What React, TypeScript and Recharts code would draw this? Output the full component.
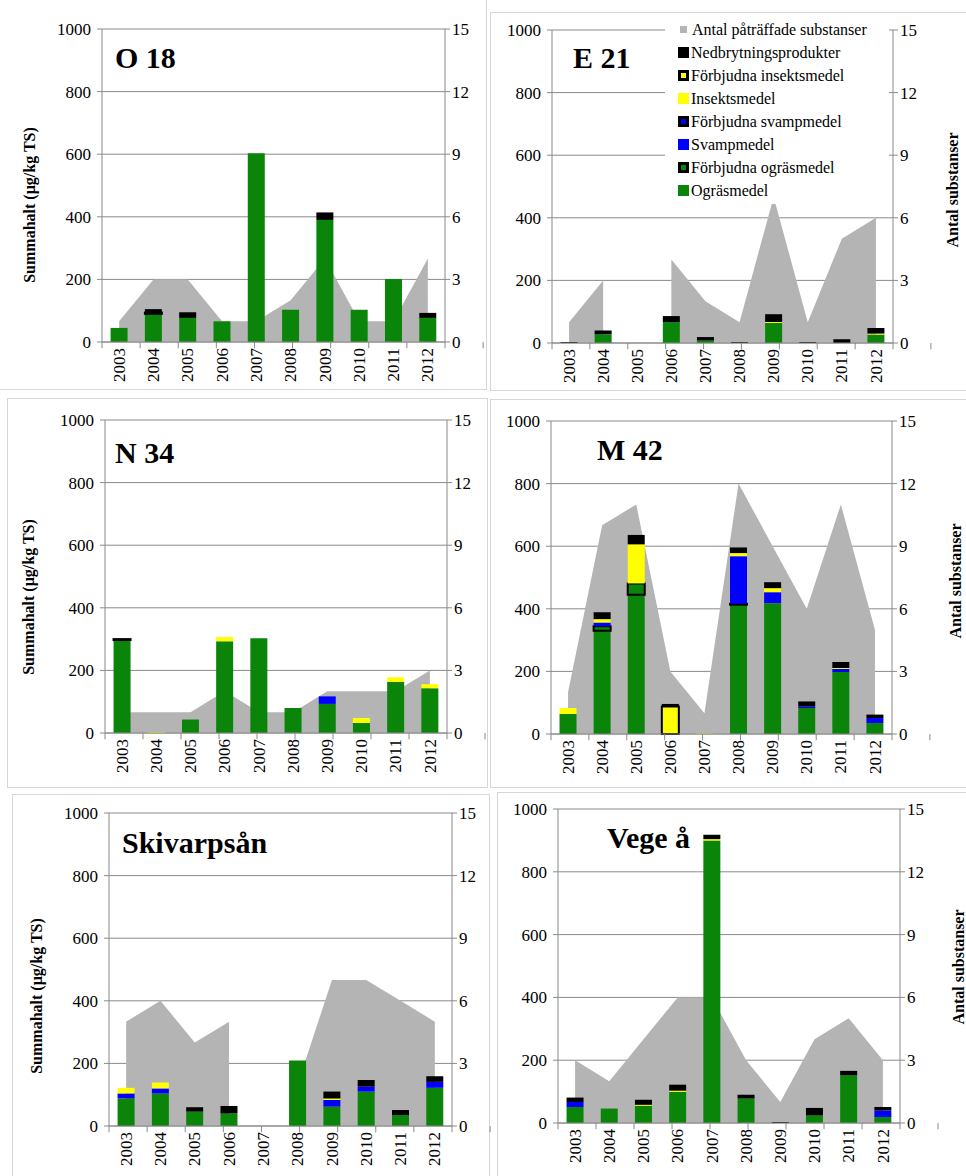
import React from 'react';
import { ComposedChart, Bar, Area, XAxis, YAxis, CartesianGrid, ReferenceLine } from 'recharts';

const YEARS = ['2003', '2004', '2005', '2006', '2007', '2008', '2009', '2010', '2011', '2012'];
const LEFT_TICKS = [0, 200, 400, 600, 800, 1000];
const RIGHT_TICKS = [0, 3, 6, 9, 12, 15];

// O 18
const O18_OGRAS = [45, 90, 77, 66, 603, 103, 390, 103, 201, 77];
const O18_FORB_INSEKT = [0, 4, 0, 0, 0, 0, 0, 0, 0, 0];
const O18_NEDBR = [0, 11, 18, 0, 0, 0, 24, 0, 0, 16];
const O18_ANTAL = [1, 3, 3, 1, 1, 2, 4, 1, 1, 4];

// E 21
const E21_OGRAS = [0, 28, 0, 67, 8, 0, 64, 0, 0, 27];
const E21_INSEKT = [0, 0, 0, 0, 0, 0, 3, 0, 0, 3];
const E21_NEDBR = [3, 12, 0, 19, 11, 3, 25, 3, 12, 18];
const E21_ANTAL = [1, 3, null, 4, 2, 1, 7, 1, 5, 6];

// N 34
const N34_OGRAS = [297, 0, 43, 293, 303, 80, 93, 32, 163, 143];
const N34_FORB_OGRAS = [3, 0, 0, 0, 0, 0, 0, 0, 0, 0];
const N34_SVAMP = [0, 0, 0, 0, 0, 0, 24, 0, 0, 0];
const N34_INSEKT = [0, 3, 0, 14, 0, 0, 0, 16, 15, 13];
const N34_ANTAL = [1, 1, 1, 2, 1, 1, 2, 2, 2, 3];

// M 42
const M42_OGRAS = [64, 330, 445, 0, 0, 413, 418, 83, 198, 35];
const M42_FORB_OGRAS = [0, 14, 36, 0, 0, 3, 0, 0, 0, 0];
const M42_SVAMP = [0, 12, 0, 0, 0, 152, 35, 5, 10, 16];
const M42_INSEKT = [19, 11, 125, 0, 2, 10, 13, 0, 3, 0];
const M42_FORB_INSEKT = [0, 0, 0, 88, 0, 0, 0, 0, 0, 0];
const M42_NEDBR = [0, 22, 30, 8, 0, 18, 19, 16, 19, 11];
const M42_ANTAL = [2, 10, 11, 3, 1, 12, 9, 6, 11, 5];

// Skivarpsån
const SKI_OGRAS = [88, 104, 46, 40, 0, 209, 62, 110, 35, 122];
const SKI_SVAMP = [16, 16, 0, 0, 0, 0, 21, 16, 0, 19];
const SKI_INSEKT = [18, 19, 0, 0, 0, 0, 5, 0, 0, 0];
const SKI_NEDBR = [0, 0, 14, 24, 0, 0, 22, 21, 16, 18];
const SKI_ANTAL = [5, 6, 4, 5, null, 2, 7, 7, 6, 5];

// Vege å
const VEG_OGRAS = [51, 46, 55, 99, 900, 78, 0, 24, 152, 19];
const VEG_SVAMP = [16, 0, 0, 0, 0, 0, 0, 0, 0, 21];
const VEG_INSEKT = [0, 0, 3, 4, 4, 0, 0, 0, 0, 0];
const VEG_NEDBR = [14, 0, 16, 19, 14, 12, 3, 24, 14, 11];
const VEG_ANTAL = [3, 2, 4, 6, 6, 3, 1, 4, 5, 3];

const GREEN = '#0a850a';
const BLUE = '#0000ff';
const YELLOW = '#ffff00';
const BLACK = '#000000';
const AREA_GRAY = '#b4b4b4';
const AXIS = '#8a8a8a';
const SERIF = "'Liberation Serif', 'Times New Roman', serif";

const SERIES = [
  { key: 'ogras', name: 'Ogräsmedel', fill: GREEN, border: false },
  { key: 'forbOgras', name: 'Förbjudna ogräsmedel', fill: GREEN, border: true },
  { key: 'svamp', name: 'Svampmedel', fill: BLUE, border: false },
  { key: 'forbSvamp', name: 'Förbjudna svampmedel', fill: BLUE, border: true },
  { key: 'insekt', name: 'Insektsmedel', fill: YELLOW, border: false },
  { key: 'forbInsekt', name: 'Förbjudna insektsmedel', fill: YELLOW, border: true },
  { key: 'nedbr', name: 'Nedbrytningsprodukter', fill: BLACK, border: false },
];
const ANTAL_NAME = 'Antal påträffade substanser';

type Vals = { [k: string]: number[] | undefined };

function buildRows(vals: Vals, antal: (number | null)[]) {
  return YEARS.map((year, i) => {
    const row: any = { year, antal: antal[i] };
    SERIES.forEach((s) => {
      const arr = vals[s.key];
      row[s.key] = arr ? arr[i] : 0;
    });
    return row;
  });
}

const PANELS = [
  { title: 'O 18', rows: buildRows({ ogras: O18_OGRAS, forbInsekt: O18_FORB_INSEKT, nedbr: O18_NEDBR }, O18_ANTAL) },
  { title: 'E 21', rows: buildRows({ ogras: E21_OGRAS, insekt: E21_INSEKT, nedbr: E21_NEDBR }, E21_ANTAL) },
  { title: 'N 34', rows: buildRows({ ogras: N34_OGRAS, forbOgras: N34_FORB_OGRAS, svamp: N34_SVAMP, insekt: N34_INSEKT }, N34_ANTAL) },
  { title: 'M 42', rows: buildRows({ ogras: M42_OGRAS, forbOgras: M42_FORB_OGRAS, svamp: M42_SVAMP, insekt: M42_INSEKT, forbInsekt: M42_FORB_INSEKT, nedbr: M42_NEDBR }, M42_ANTAL) },
  { title: 'Skivarpsån', rows: buildRows({ ogras: SKI_OGRAS, svamp: SKI_SVAMP, insekt: SKI_INSEKT, nedbr: SKI_NEDBR }, SKI_ANTAL) },
  { title: 'Vege å', rows: buildRows({ ogras: VEG_OGRAS, svamp: VEG_SVAMP, insekt: VEG_INSEKT, nedbr: VEG_NEDBR }, VEG_ANTAL) },
];

// layout: plot box in page coords, title position, axis titles, frames
const LAYOUT = [
  { px: 102, py: 29, pw: 343, ph: 313, tx: 115, ty: 43, leftTitle: [30, 205], rightTitle: null, frame: [-1, -1, 488, 391] },
  { px: 552, py: 30, pw: 341, ph: 313, tx: 573, ty: 43, leftTitle: null, rightTitle: [953, 190], frame: [490, 12, 480, 379] },
  { px: 105, py: 420, pw: 342, ph: 313, tx: 115, ty: 438, leftTitle: [29, 597], rightTitle: null, frame: [7, 398, 481, 390] },
  { px: 551, py: 421, pw: 341, ph: 313, tx: 597, ty: 435, leftTitle: null, rightTitle: [956, 581], frame: [490, 399, 480, 389] },
  { px: 109, py: 813, pw: 343, ph: 313, tx: 122, ty: 828, leftTitle: [37, 996], rightTitle: null, frame: [12, 794, 478, 390] },
  { px: 558, py: 809, pw: 342, ph: 314, tx: 607, ty: 823, leftTitle: null, rightTitle: [959, 967], frame: [497, 792, 475, 390] },
];

const M_TOP = 10;
const LEFT_W = 60;
const RIGHT_W = 45;
const X_H = 48;

const XTick = (props: any) => {
  const { x, y, payload } = props;
  const yy = y - 2;
  return (
    <text x={x} y={yy} transform={`rotate(-90 ${x} ${yy})`} textAnchor="end" dy="0.33em" fontSize={17} fontFamily={SERIF} fill="#000" style={{ fontFamily: SERIF }}>
      {payload.value}
    </text>
  );
};

const tickStyle = { fontSize: 17, fontFamily: SERIF, fill: '#000', style: { fontFamily: SERIF } };

function Panel({ rows, lay }: { rows: any[]; lay: any }) {
  const width = lay.pw + LEFT_W + RIGHT_W;
  const height = lay.ph + M_TOP + X_H;
  const tickPositions = YEARS.map((_, i) => i).concat([YEARS.length]);
  return (
    <div style={{ position: 'absolute', left: lay.px - LEFT_W, top: lay.py - M_TOP, width, height, fontFamily: SERIF }}>
      <ComposedChart width={width} height={height} data={rows} margin={{ top: M_TOP, right: 0, bottom: 0, left: 0 }} barCategoryGap="25%" style={{ fontFamily: SERIF }}>
        <CartesianGrid xAxisId="cat" yAxisId="left" vertical={false} stroke={AXIS} strokeWidth={1} />
        <XAxis xAxisId="n" type="number" domain={[0, YEARS.length]} allowDataOverflow hide />
        <XAxis xAxisId="cat" dataKey="year" interval={0} tickLine={false} axisLine={{ stroke: AXIS }} height={X_H} tick={<XTick />} />
        <YAxis yAxisId="left" domain={[0, 1000]} ticks={LEFT_TICKS} width={LEFT_W} interval={0} axisLine={{ stroke: AXIS }} tickLine={{ stroke: AXIS }} tickSize={5} tickMargin={6} tick={tickStyle} />
        <YAxis yAxisId="right" orientation="right" domain={[0, 15]} ticks={RIGHT_TICKS} width={RIGHT_W} interval={0} axisLine={{ stroke: AXIS }} tickLine={{ stroke: AXIS }} tickSize={5} tickMargin={2} tick={{ ...tickStyle, textAnchor: 'start' }} />
        <Area xAxisId="cat" yAxisId="right" dataKey="antal" name={ANTAL_NAME} type="linear" fill={AREA_GRAY} fillOpacity={1} stroke="none" connectNulls={false} dot={false} activeDot={false} isAnimationActive={false} />
        {SERIES.map((s) => (
          <Bar key={s.key} xAxisId="cat" yAxisId="left" dataKey={s.key} name={s.name} stackId="a" fill={s.fill} stroke={s.border ? BLACK : 'none'} strokeWidth={s.border ? 2 : 0} isAnimationActive={false} />
        ))}
        {tickPositions.map((p) => (
          <ReferenceLine key={p} xAxisId="n" yAxisId="left" segment={[{ x: p, y: 0 }, { x: p, y: -20 }]} stroke={AXIS} ifOverflow="visible" />
        ))}
      </ComposedChart>
    </div>
  );
}

const titleStyle: React.CSSProperties = {
  position: 'absolute',
  fontFamily: SERIF,
  fontWeight: 'bold',
  fontSize: 30,
  lineHeight: '30px',
  whiteSpace: 'nowrap',
  color: '#000',
};

const axisTitleStyle = (cx: number, cy: number): React.CSSProperties => ({
  position: 'absolute',
  left: cx,
  top: cy,
  transform: 'translate(-50%, -50%) rotate(-90deg)',
  fontFamily: SERIF,
  fontWeight: 'bold',
  fontSize: 16,
  lineHeight: '16px',
  whiteSpace: 'nowrap',
  color: '#000',
});

function LegendBox() {
  const items = [...SERIES].reverse();
  const rowStyle: React.CSSProperties = { display: 'flex', alignItems: 'center', height: 23 };
  const textStyle: React.CSSProperties = { fontFamily: SERIF, fontSize: 16, color: '#000', whiteSpace: 'nowrap', lineHeight: '16px' };
  return (
    <div style={{ position: 'absolute', left: 665, top: 18, width: 224, height: 186, background: '#fff' }}>
      <div style={{ ...rowStyle }}>
        <div style={{ width: 7, height: 7, background: AREA_GRAY, marginLeft: 15, marginRight: 5 }} />
        <span style={textStyle}>{ANTAL_NAME}</span>
      </div>
      {items.map((s) => (
        <div key={s.key} style={rowStyle}>
          <div
            style={{
              width: 11,
              height: 11,
              boxSizing: 'border-box',
              background: s.fill,
              border: s.border ? '3px solid #000' : 'none',
              marginLeft: 13,
              marginRight: 2,
            }}
          />
          <span style={textStyle}>{s.name}</span>
        </div>
      ))}
    </div>
  );
}

export default function App() {
  return (
    <div style={{ position: 'absolute', left: 0, top: 0, width: 966, height: 1176, background: '#fff', overflow: 'hidden', fontFamily: SERIF }}>
      {LAYOUT.map((lay, i) => (
        <div
          key={'f' + i}
          style={{
            position: 'absolute',
            left: lay.frame[0],
            top: lay.frame[1],
            width: lay.frame[2],
            height: lay.frame[3],
            border: '1px solid #d6d6d6',
            boxSizing: 'border-box',
          }}
        />
      ))}
      {PANELS.map((p, i) => (
        <Panel key={p.title} rows={p.rows} lay={LAYOUT[i]} />
      ))}
      {PANELS.map((p, i) => (
        <div key={'t' + i} style={{ ...titleStyle, left: LAYOUT[i].tx, top: LAYOUT[i].ty }}>
          {p.title}
        </div>
      ))}
      {LAYOUT.map((lay, i) =>
        lay.leftTitle ? (
          <div key={'l' + i} style={axisTitleStyle(lay.leftTitle[0], lay.leftTitle[1])}>
            Summahalt (µg/kg TS)
          </div>
        ) : null
      )}
      {LAYOUT.map((lay, i) =>
        lay.rightTitle ? (
          <div key={'r' + i} style={axisTitleStyle(lay.rightTitle[0], lay.rightTitle[1])}>
            Antal substanser
          </div>
        ) : null
      )}
      <LegendBox />
    </div>
  );
}
